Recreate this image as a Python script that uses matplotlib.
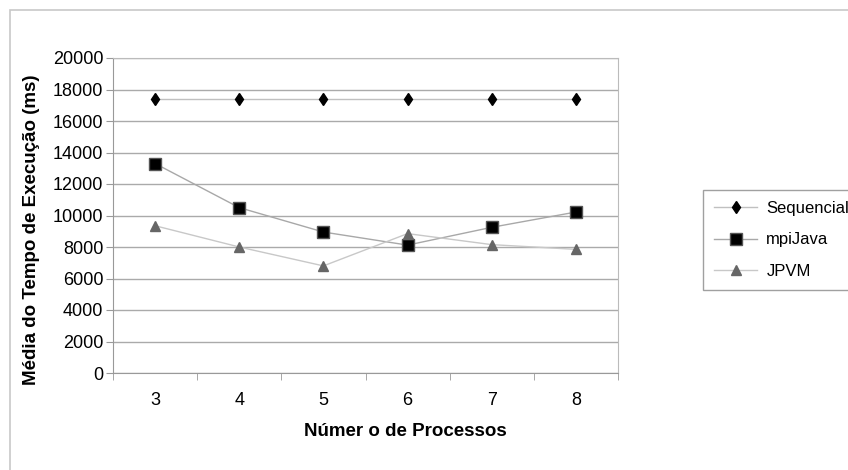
import matplotlib.pyplot as plt
from matplotlib.patches import Rectangle

# data
processes = ['3', '4', '5', '6', '7', '8']
sequencial = [17400, 17400, 17400, 17400, 17400, 17400]
mpijava = [13300, 10500, 8950, 8120, 9250, 10220]
jpvm = [9350, 8000, 6800, 8850, 8150, 7850]

plt.rcParams['font.family'] = ['Liberation Sans', 'DejaVu Sans']

fig = plt.figure(figsize=(8.48, 4.70), dpi=100)

# outer chart border (only top/left visible in the reference crop)
fig.patches.append(Rectangle((10 / 848, -0.1), 1.2, (470 - 10) / 470 + 0.1,
                             transform=fig.transFigure, fill=False,
                             edgecolor='#c8c8c8', linewidth=1.2))

ax = fig.add_axes([113 / 848, (470 - 373) / 470, 505 / 848, 315 / 470])
x = list(range(len(processes)))

ax.plot(x, sequencial, color='#c0c0c0', lw=1, marker='d', ms=6,
        mfc='black', mec='black', label='Sequencial', zorder=3)
ax.plot(x, mpijava, color='#a8a8a8', lw=1, marker='s', ms=9,
        mfc='black', mec='#555555', label='mpiJava', zorder=3)
ax.plot(x, jpvm, color='#c8c8c8', lw=1, marker='^', ms=7,
        mfc='#666666', mec='#666666', label='JPVM', zorder=3)

ax.set_xlim(-0.5, len(processes) - 0.5)
ax.set_ylim(0, 20000)
ax.set_yticks(range(0, 20001, 2000))
ax.set_xticks(x)
ax.set_xticklabels(processes)
ax.set_xticks([i + 0.5 for i in range(-1, len(processes))], minor=True)
ax.tick_params(axis='x', which='major', length=0, pad=14, labelsize=13)
ax.tick_params(axis='x', which='minor', length=5, color='#999999')
ax.tick_params(axis='y', length=5, color='#999999', labelsize=13, pad=2)

ax.grid(axis='y', color='#aaaaaa', lw=1)
ax.set_axisbelow(True)
for side in ['top', 'right']:
    ax.spines[side].set_color('#bbbbbb')
for side in ['left', 'bottom']:
    ax.spines[side].set_color('#999999')

ax.set_xlabel('Númer o de Processos', fontsize=13.5, fontweight='bold')
ax.set_ylabel('Média do Tempo de Execução (ms)', fontsize=13.5, fontweight='bold')
# the labels sit off-centre in the reference
ax.xaxis.set_label_coords((405 - 113) / 505, -(432 - 373) / 315, transform=ax.transAxes)
ax.xaxis.label.set_va('center')
ax.yaxis.set_label_coords(-(113 - 32) / 505, (373 - 230) / 315, transform=ax.transAxes)
ax.yaxis.label.set_va('center')

leg = ax.legend(loc='upper left', bbox_to_anchor=(703 / 848, (470 - 190) / 470),
                bbox_transform=fig.transFigure, frameon=True, fancybox=False,
                edgecolor='#888888', fontsize=12, handlelength=2.6,
                handletextpad=0.55, borderpad=0.65, labelspacing=1.0,
                borderaxespad=0)
leg.get_frame().set_linewidth(1)

fig.savefig('out.png', dpi=100)
